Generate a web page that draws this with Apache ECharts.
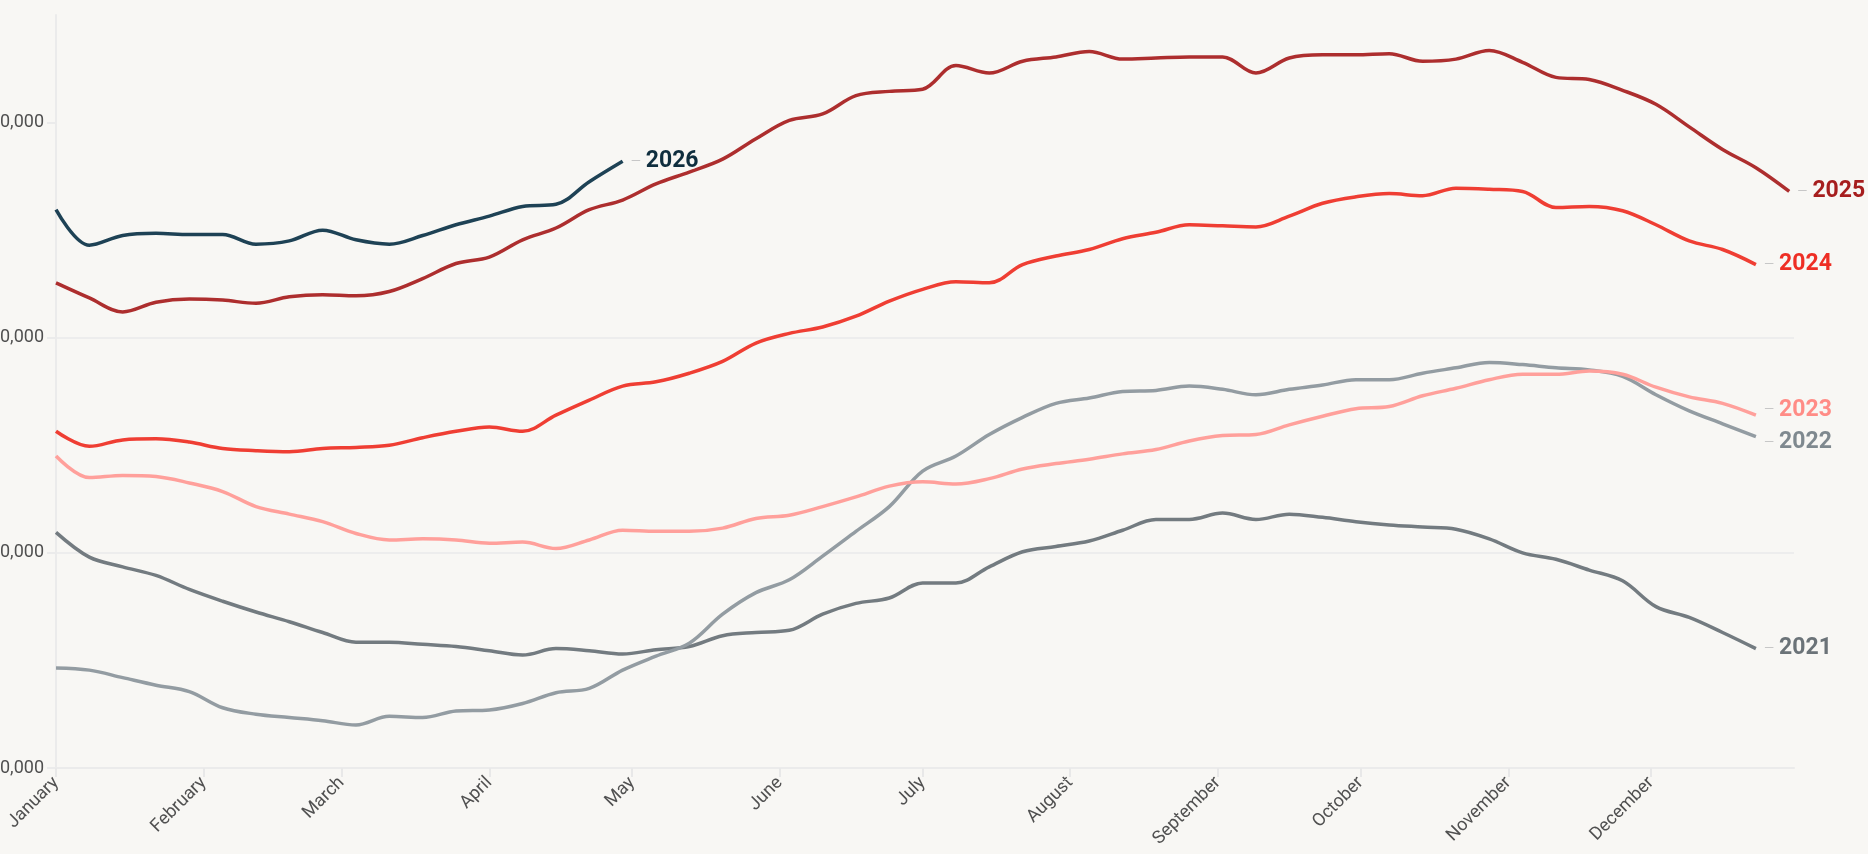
<!DOCTYPE html>
<html>
<head>
<meta charset="utf-8">
<title>Inventory by year</title>
<script src="https://cdn.jsdelivr.net/npm/echarts@6/dist/echarts.min.js"></script>
<style type="text/css">
	html, body { margin: 0; padding: 0; background: #f8f7f4; }
	#main { width: 1868px; height: 854px; }
</style>
</head>
<body>
<div id="main"></div>
<script type="text/javascript">
	// day of year for each weekly reading (Jan 1 = 0)
	var days = [0, 7, 14, 21, 28, 35, 42, 49, 56, 63, 70, 77, 84, 91, 98, 105, 112, 119,
		126, 133, 140, 147, 154, 161, 168, 175, 182, 189, 196, 203, 210, 217, 224, 231, 238, 245,
		252, 259, 266, 273, 280, 287, 294, 301, 308, 315, 322, 329, 336, 343, 350, 357, 364];

	// month ticks on the x axis
	var monthDays = [0, 31, 60, 91, 121, 152, 182, 213, 244, 274, 305, 335];
	var monthNames = ['January', 'February', 'March', 'April', 'May', 'June', 'July',
		'August', 'September', 'October', 'November', 'December'];

	// y axis ticks (thousands)
	var yTicks = [200, 400, 600, 800];

	// weekly values, in thousands
	var v2021 = [419, 396, 387, 379, 366, 355, 345, 336, 326, 317, 317, 315, 313, 309, 305, 311, 309, 306,
		310, 313, 323, 326, 328, 343, 353, 358, 372, 372, 387, 401, 406, 411, 421, 431, 431, 437,
		431, 436, 433, 429, 426, 424, 422, 413, 400, 394, 384, 374, 350, 340, 326, 311];
	var v2022 = [293, 291, 284, 277, 271, 256, 250, 247, 244, 240, 248, 247, 253, 254, 260, 270, 274, 291,
		304, 316, 343, 363, 375, 397, 420, 443, 476, 490, 510, 526, 539, 544, 550, 551, 555, 552,
		547, 552, 556, 561, 561, 567, 572, 577, 575, 572, 570, 564, 547, 532, 520, 508];
	var v2023 = [490, 470, 472, 471, 465, 457, 443, 436, 429, 418, 412, 413, 412, 409, 410, 404, 412, 421,
		420, 420, 423, 432, 435, 443, 452, 462, 466, 464, 469, 478, 483, 487, 492, 496, 504, 509,
		510, 519, 527, 534, 536, 546, 553, 561, 566, 566, 569, 566, 554, 545, 539, 528];
	var v2024 = [513, 499, 505, 506, 503, 497, 495, 494, 497, 498, 500, 507, 513, 517, 513, 528, 542, 555,
		559, 567, 578, 595, 604, 610, 620, 634, 645, 652, 651, 668, 676, 682, 692, 698, 705, 704,
		703, 713, 725, 731, 734, 732, 739, 738, 736, 721, 722, 718, 705, 690, 682, 668];
	var v2025 = [651, 637, 624, 633, 636, 635, 632, 638, 640, 639, 643, 655, 669, 675, 691, 702, 719, 728,
		743, 754, 766, 785, 802, 808, 825, 829, 831, 853, 846, 857, 861, 866, 859, 860, 861, 861,
		846, 860, 863, 863, 864, 857, 859, 867, 856, 842, 840, 830, 817, 796, 775, 758, 736];
	var v2026 = [719, 686, 695, 697, 696, 696, 687, 690, 700, 691, 687, 695, 705, 713, 722, 724, 745, 764];

	var years = ['2021', '2022', '2023', '2024', '2025', '2026'];
	var values = [v2021, v2022, v2023, v2024, v2025, v2026];
	var lineColors = ['#737b80', '#939ca2', '#ffa09b', '#ef3e33', '#ad2e2e', '#1e4255'];
	var textColors = ['#6b7378', '#7f898f', '#ff8c86', '#ee2e24', '#a61e1e', '#0f2e3e'];
	var labelShift = [0, 6, -5, 0, 0, 0];

	var myChart = echarts.init(document.getElementById('main'));

	var series = [];
	for (var i = 0; i < years.length; i++) {
		var pts = [];
		for (var j = 0; j < values[i].length; j++) {
			pts.push([days[j], values[i][j]]);
		}
		series.push({
			name: years[i],
			type: 'line',
			data: pts,
			smooth: 0.35,
			showSymbol: false,
			z: 2 + i,
			lineStyle: { color: lineColors[i], width: 3.5 },
			itemStyle: { color: lineColors[i] },
			endLabel: {
				show: true,
				distance: 8,
				offset: [0, labelShift[i]],
				formatter: '{d|—}{y|{a}}',
				textBorderColor: '#f8f7f4',
				textBorderWidth: 3,
				rich: {
					d: { color: '#c6c6c6', fontSize: 13, fontFamily: 'Roboto', padding: [0, 5, 0, 0] },
					y: { color: textColors[i], fontSize: 23, fontWeight: 'bold', fontFamily: 'Roboto' }
				}
			}
		});
	}

	var option = {
		backgroundColor: '#f8f7f4',
		animation: false,
		grid: { left: 56, right: 74, top: 15, bottom: 86, outerBoundsMode: 'none', containLabel: false },
		xAxis: {
			type: 'value',
			min: 0,
			max: 365,
			axisLine: { show: true, lineStyle: { color: '#ebebeb', width: 2 } },
			axisTick: { show: true, length: 9, customValues: monthDays, lineStyle: { color: '#e8e8e8', width: 2 } },
			splitLine: { show: false },
			axisLabel: {
				customValues: monthDays,
				rotate: 45,
				margin: 12,
				color: '#505050',
				fontSize: 18,
				fontFamily: 'Roboto',
				formatter: function (v) {
					return monthNames[monthDays.indexOf(v)];
				}
			}
		},
		yAxis: {
			type: 'value',
			min: 200,
			max: 900,
			interval: 200,
			axisLine: { show: true, lineStyle: { color: '#ebebeb', width: 2 } },
			axisTick: { show: true, length: 9, customValues: yTicks, lineStyle: { color: '#ebebeb', width: 2 } },
			splitLine: { show: true, showMaxLine: false, lineStyle: { color: '#ededed', width: 2 } },
			axisLabel: {
				customValues: yTicks,
				margin: 12,
				color: '#505050',
				fontSize: 18,
				fontFamily: 'Roboto',
				formatter: function (v) {
					return v + ',000';
				}
			}
		},
		series: series
	};

	myChart.setOption(option);
</script>
</body>
</html>
